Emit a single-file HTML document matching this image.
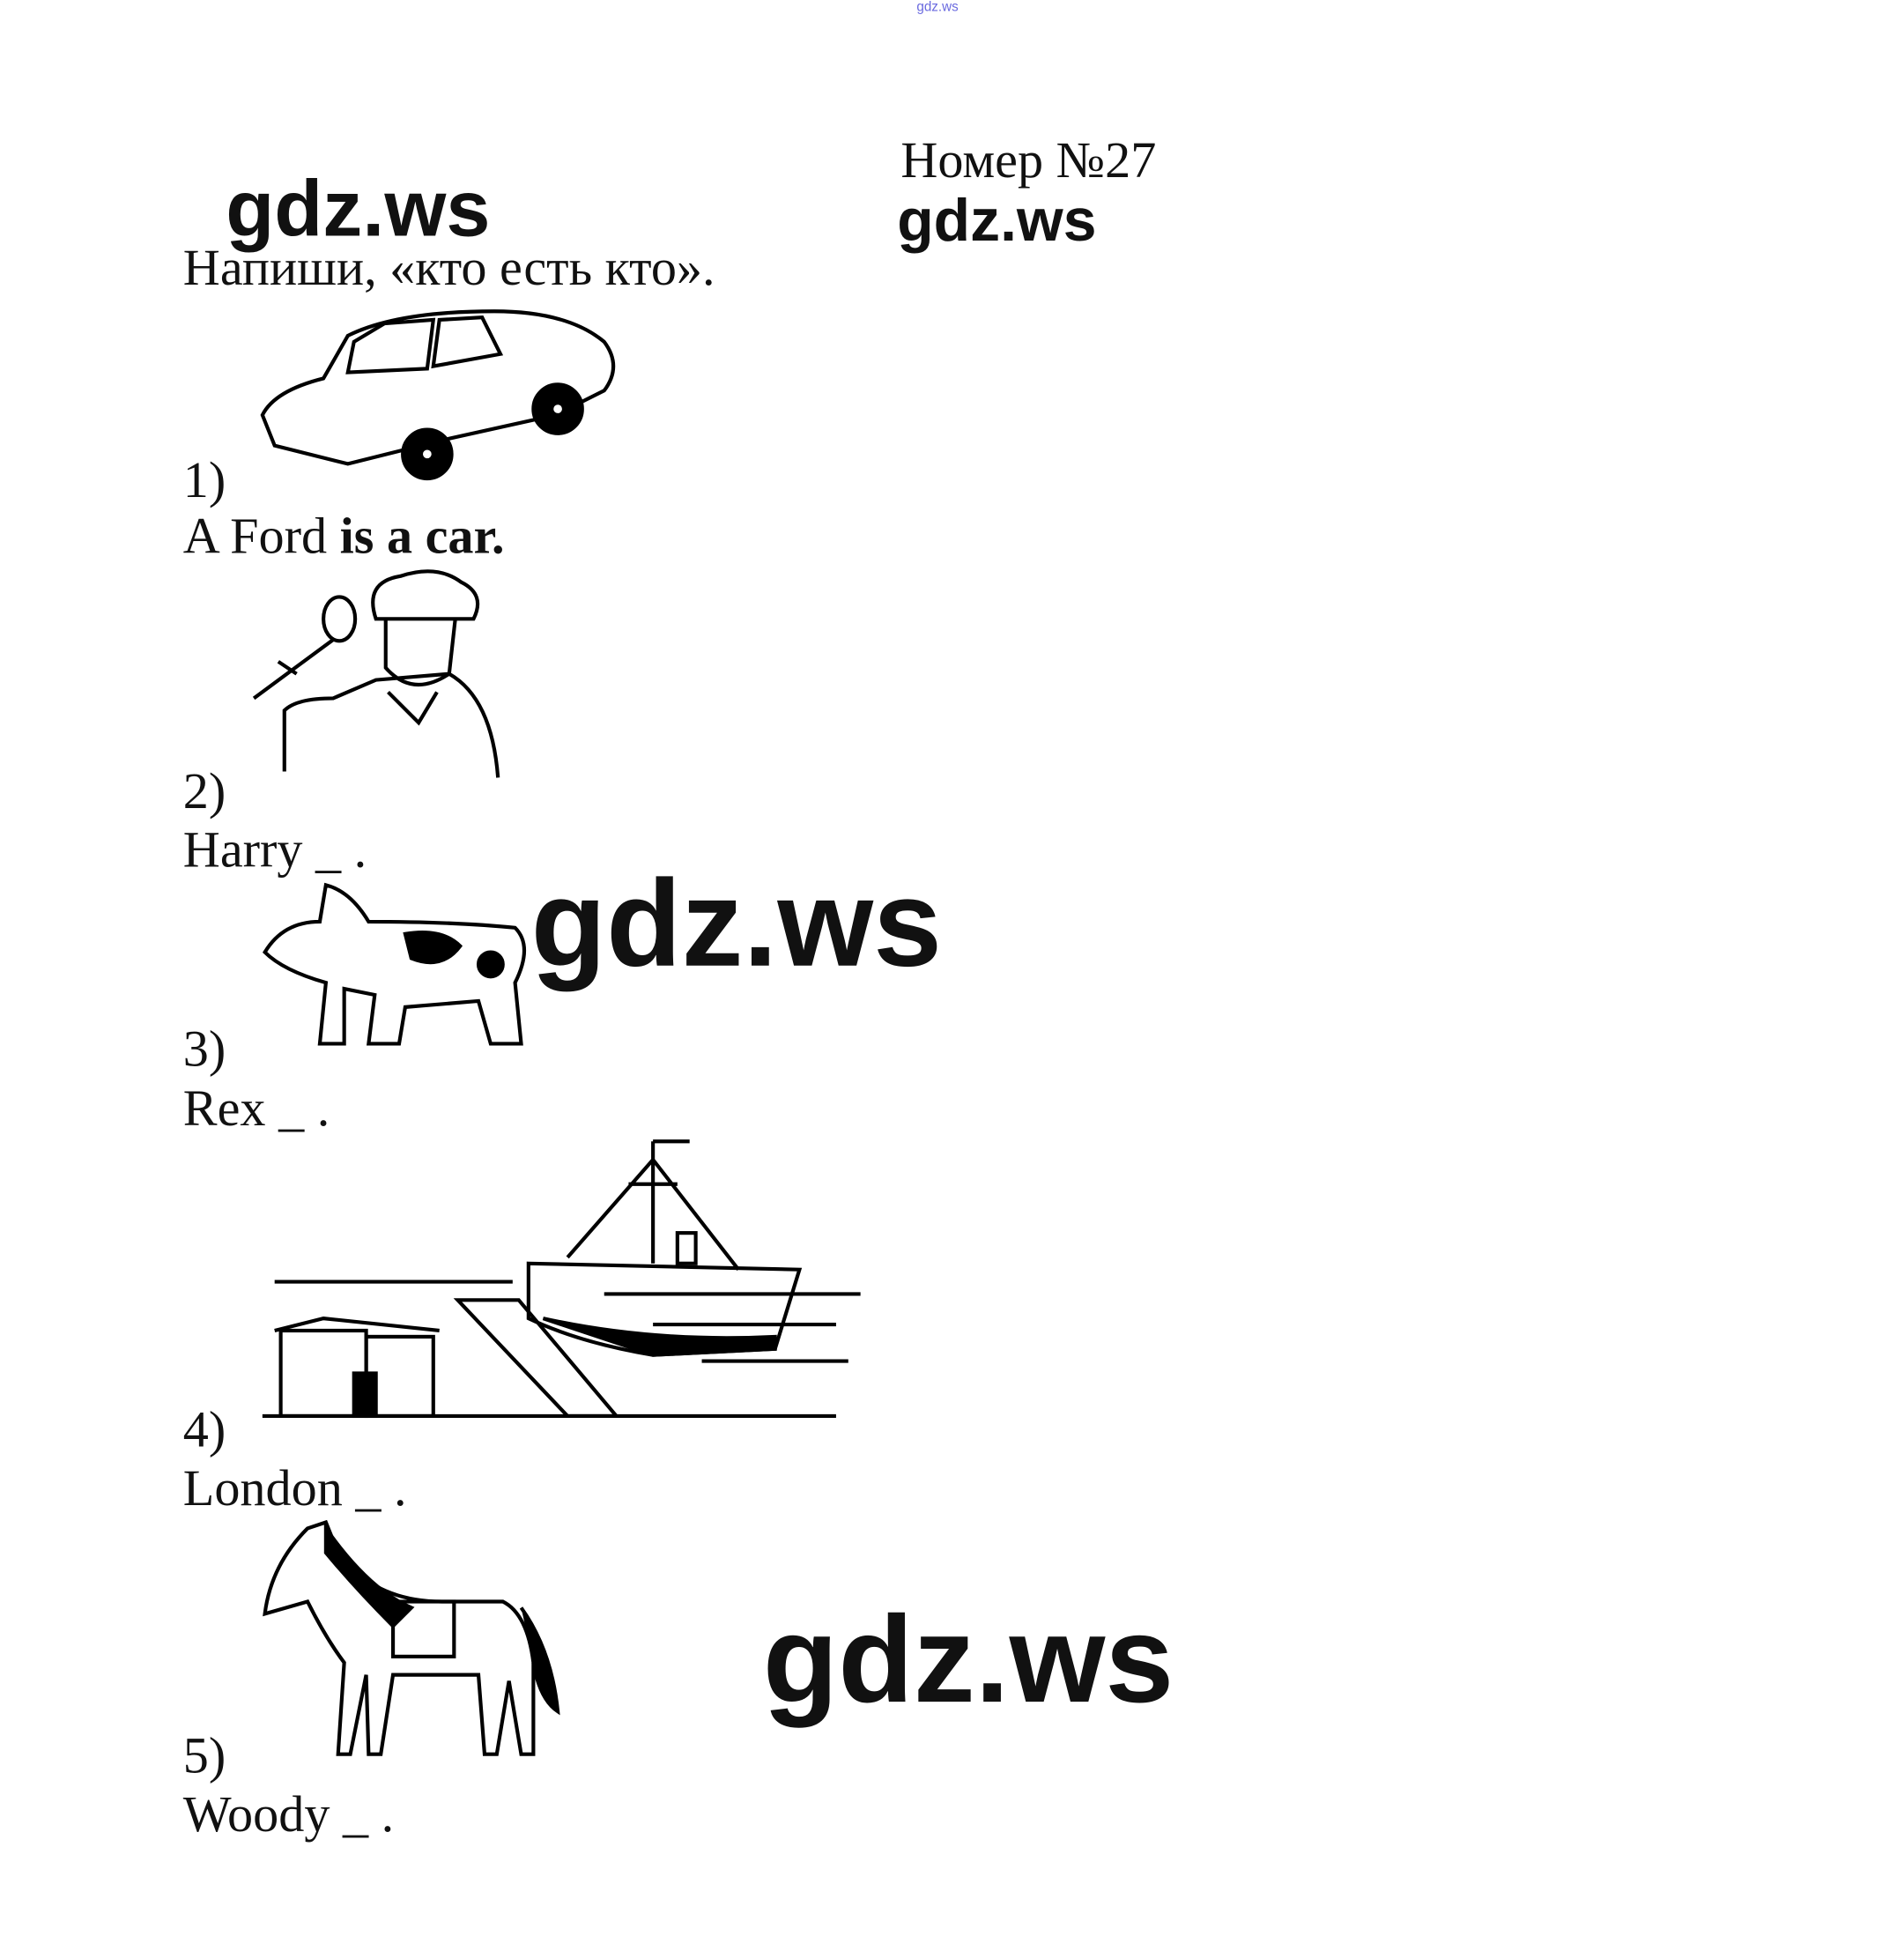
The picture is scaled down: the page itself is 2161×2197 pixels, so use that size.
<!DOCTYPE html>
<html><head><meta charset="utf-8"><style>
html,body{margin:0;padding:0;background:#fff;}
#wrap{position:relative;width:2161px;height:2197px;overflow:hidden;background:#fff;}
#s{position:absolute;left:0;top:0;width:1560px;height:1586px;transform:scale(1.3853);transform-origin:0 0;}
.t{position:absolute;font-family:"Liberation Serif","Noto Serif CJK SC",serif;font-size:42px;line-height:1;color:#111;white-space:nowrap;}
.g{position:absolute;font-family:"Liberation Sans",sans-serif;font-weight:bold;line-height:1;color:#111;white-space:nowrap;}
svg{position:absolute;}
</style></head><body><div id="wrap"><div id="s">
<div class="g" style="left:751px;top:1px;font-size:11px;color:#6a6adf;font-weight:normal">gdz.ws</div>
<div class="t" style="left:738px;top:111px;">Номер №27</div>
<div class="g" style="left:185px;top:138px;font-size:65px;">gdz.ws</div>
<div class="g" style="left:735px;top:157px;font-size:49px;">gdz.ws</div>
<div class="t" style="left:150px;top:199px;">Напиши, «кто есть кто».</div>

<svg style="left:205px;top:240px" width="310" height="160" viewBox="0 0 310 160" fill="none" stroke="#000" stroke-width="3">
<path d="M10 100 Q20 80 60 70 L80 35 Q120 15 200 15 Q260 15 290 40 Q305 60 290 80 L250 100 L160 120 L80 140 L20 125 Z"/>
<path d="M85 40 L110 25 L150 22 L145 62 L80 65 Z M155 22 L190 20 L205 50 L150 60 Z"/>
<circle cx="145" cy="132" r="20" fill="#000"/><circle cx="252" cy="95" r="20" fill="#000"/>
<circle cx="145" cy="132" r="5" fill="#fff"/><circle cx="252" cy="95" r="5" fill="#fff"/>
</svg>
<div class="t" style="left:150px;top:373px;">1)</div>
<div class="t" style="left:150px;top:419px;">A Ford <b>is a car.</b></div>

<svg style="left:198px;top:462px" width="220" height="185" viewBox="0 0 220 185" fill="none" stroke="#000" stroke-width="3">
<path d="M110 45 Q100 15 130 10 Q160 0 180 15 Q200 25 190 45 Z"/>
<path d="M118 45 L118 85 Q140 110 170 90 L175 45"/>
<path d="M35 170 L35 120 Q45 110 75 110 L110 95 L170 90 Q205 110 210 175"/>
<ellipse cx="80" cy="45" rx="13" ry="18"/><path d="M75 62 L10 110 M30 80 L45 90"/>
<path d="M120 105 L145 130 L160 105"/>
</svg>
<div class="t" style="left:150px;top:628px;">2)</div>
<div class="t" style="left:150px;top:676px;">Harry _ .</div>

<svg style="left:212px;top:715px" width="230" height="150" viewBox="0 0 230 150" fill="none" stroke="#000" stroke-width="3">
<path d="M5 65 Q20 40 50 40 L55 10 Q75 15 90 40 Q160 40 210 45 Q225 60 210 90 L215 140 L190 140 L180 105 L120 110 L115 140 L90 140 L95 100 L70 95 L70 140 L50 140 L55 90 Q20 80 5 65 Z"/>
<path d="M120 50 Q150 45 165 60 Q150 80 125 70 Z" fill="#000"/><circle cx="190" cy="75" r="10" fill="#000"/>
</svg>
<div class="g" style="left:435px;top:707px;font-size:101px;">gdz.ws</div>
<div class="t" style="left:150px;top:839px;">3)</div>
<div class="t" style="left:150px;top:888px;">Rex _ .</div>

<svg style="left:205px;top:930px" width="505" height="240" viewBox="0 0 505 240" fill="none" stroke="#000" stroke-width="3">
<path d="M20 120 L215 120 M290 130 L500 130 M330 155 L480 155 M370 185 L490 185 M10 230 L480 230"/>
<path d="M228 105 L450 110 L430 175 L330 180 Q270 170 228 150 Z"/><path d="M240 150 Q330 170 430 165 L430 175 L330 180 Z" fill="#000"/>
<path d="M330 5 L330 105 M330 20 L260 100 M330 20 L400 110 M330 5 L360 5 M310 40 L350 40"/>
<rect x="350" y="80" width="15" height="25"/>
<path d="M170 135 L220 135 L300 230 L260 230 Z"/>
<rect x="25" y="160" width="70" height="70"/><rect x="95" y="165" width="55" height="65"/><path d="M20 160 L60 150 L155 160"/>
<rect x="85" y="195" width="18" height="35" fill="#000"/>
</svg>
<div class="t" style="left:150px;top:1151px;">4)</div>
<div class="t" style="left:150px;top:1199px;">London _ .</div>

<svg style="left:212px;top:1242px" width="255" height="205" viewBox="0 0 255 205" fill="none" stroke="#000" stroke-width="3">
<path d="M5 80 Q10 40 40 10 L55 5 L65 30 Q95 70 150 70 L200 70 Q220 80 225 120 L225 195 L215 195 L205 135 L195 195 L185 195 L180 130 L110 130 L100 195 L90 195 L88 130 L75 195 L65 195 L70 120 Q55 100 40 70 Z"/>
<path d="M55 10 Q90 60 125 75 L110 90 Q80 60 55 30 Z" fill="#000"/>
<path d="M215 75 Q240 110 245 160 Q230 150 225 120" fill="#000"/>
<rect x="110" y="70" width="50" height="45"/>
</svg>
<div class="g" style="left:625px;top:1310px;font-size:101px;">gdz.ws</div>
<div class="t" style="left:150px;top:1418px;">5)</div>
<div class="t" style="left:150px;top:1466px;">Woody _ .</div>
</div></div></body></html>
